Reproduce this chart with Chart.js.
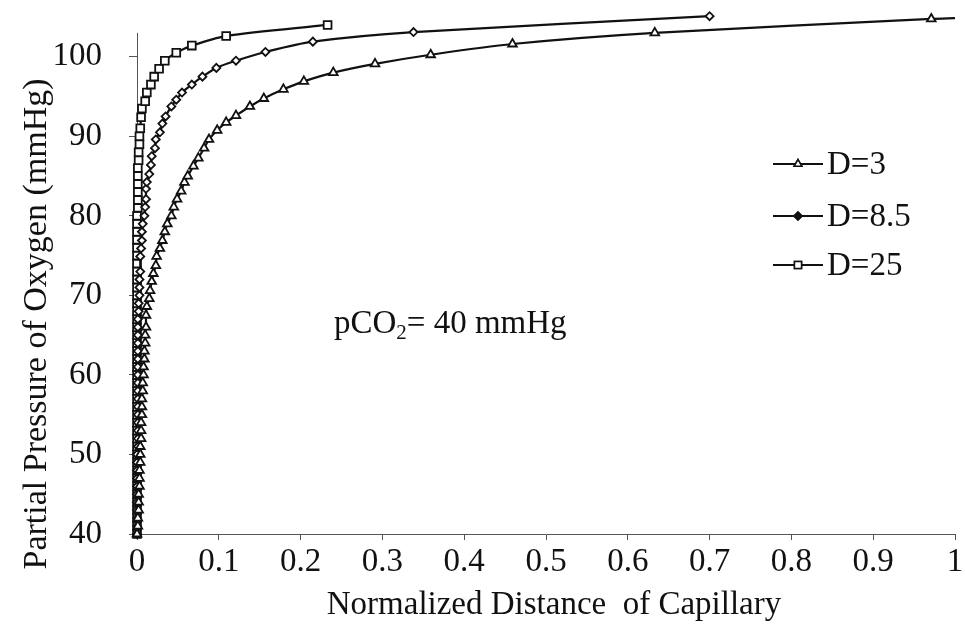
<!DOCTYPE html>
<html>
<head>
<meta charset="utf-8">
<script src="https://cdn.jsdelivr.net/npm/chart.js@4/dist/chart.umd.min.js"></script>
<style>
html,body{margin:0;padding:0;background:#fff;}
#wrap{width:965px;height:631px;position:relative;}
</style>
</head>
<body>
<div id="wrap"><canvas id="c" width="965" height="631"></canvas></div>
<script>
// ---- data ----
const seriesLabels = ["D=3", "D=8.5", "D=25"];

const d3X = [0.000,0.001,0.001,0.002,0.002,0.002,0.003,0.003,0.003,0.004,0.004,0.004,0.005,0.005,0.005,0.006,0.006,0.006,0.007,0.007,0.008,0.008,0.009,0.009,0.010,0.010,0.011,0.011,0.012,0.015,0.016,0.018,0.020,0.023,0.024,0.028,0.031,0.034,0.037,0.042,0.045,0.049,0.054,0.058,0.062,0.069,0.075,0.082,0.088,0.098,0.109,0.121,0.138,0.155,0.179,0.204,0.240,0.291,0.359,0.459,0.633,0.971,1.0];
const d3Y = [40,41,42,43,44,45,46,47,48,49,50,51,52,53,54,55,56,57,58,59,60,61,62,63,64,65,66,67.5,68.6,69.6,70.6,71.75,72.75,73.75,74.9,75.9,76.9,78,79,80,81.1,82.1,83.1,84.2,85,86.25,87.25,88.5,89.6,90.75,91.75,92.6,93.75,94.75,95.9,96.9,98,99.1,100.25,101.6,103,104.75,104.85];

const d85X = [0.000,0.000,0.000,0.000,0.000,0.000,0.000,0.000,0.000,0.000,0.000,0.001,0.001,0.001,0.001,0.001,0.001,0.001,0.001,0.001,0.001,0.001,0.001,0.001,0.001,0.001,0.001,0.001,0.002,0.002,0.003,0.003,0.003,0.004,0.004,0.005,0.006,0.006,0.007,0.009,0.010,0.011,0.011,0.012,0.015,0.017,0.018,0.022,0.023,0.028,0.031,0.035,0.042,0.048,0.055,0.067,0.080,0.097,0.121,0.157,0.215,0.338,0.700];
const d85Y = [40,41,42,43,44,45,46,47,48,49,50,51,52,53,54,55,56,57,58,59,60,61,62,63,64,65,66,67,68,69,70,71,72,73,74.9,75.9,76.9,78,79,80,81.1,82.1,83.4,84.25,85.25,86.4,87.5,88.5,89.6,90.5,91.6,92.5,93.75,94.6,95.5,96.5,97.5,98.6,99.5,100.6,101.9,103.1,105.1];

const d25X = [0.000,0.000,0.000,0.000,0.000,0.000,0.000,0.000,0.000,0.000,0.000,0.000,0.000,0.000,0.000,0.000,0.000,0.000,0.000,0.000,0.000,0.000,0.000,0.000,0.000,0.000,0.000,0.000,0.000,0.000,0.000,0.000,0.000,0.000,0.000,0.000,0.000,0.000,0.000,0.000,0.000,0.001,0.001,0.001,0.001,0.001,0.001,0.002,0.002,0.003,0.003,0.004,0.005,0.006,0.010,0.012,0.017,0.021,0.027,0.034,0.048,0.067,0.109,0.233];
const d25Y = [40,41,42,43,44,45,46,47,48,49,50,51,52,53,54,55,56,57,58,59,60,61,62,63,64,65,66,67,68,69,70,71,72,73,74,75,76,77,78,79,80,81,82,83,84,85,86,87,88,89,90,91,92.4,93.5,94.4,95.5,96.5,97.5,98.5,99.5,100.5,101.4,102.6,104];

const xTickValues = [0,0.1,0.2,0.3,0.4,0.5,0.6,0.7,0.8,0.9,1];
const xTickLabels = ["0","0.1","0.2","0.3","0.4","0.5","0.6","0.7","0.8","0.9","1"];
const yTickValues = [40,50,60,70,80,90,100];
const yAxisTop = 103;

const xTitle = "Normalized Distance  of Capillary";
const yTitle = "Partial Pressure of Oxygen (mmHg)";

// ---- build ----
const pts = (xs, ys) => xs.map((x, i) => ({x: x, y: ys[i]}));
const FONT = "'Liberation Serif', 'Times New Roman', serif";

const base = {
  borderColor: '#111', borderWidth: 2.2, backgroundColor: '#fff',
  pointBorderColor: '#111', pointBackgroundColor: '#fff', pointBorderWidth: 1.8,
  showLine: true, tension: 0.3, fill: false, clip: false
};

const datasets = [
  Object.assign({}, base, {label: seriesLabels[0], data: pts(d3X, d3Y), pointStyle: 'triangle',
    pointRadius: ctx => (ctx.dataIndex === d3X.length - 1 ? 0 : 5), legendRadius: 4.5}),
  Object.assign({}, base, {label: seriesLabels[1], data: pts(d85X, d85Y), pointStyle: 'rectRot', pointRadius: 4, legendRadius: 4}),
  Object.assign({}, base, {label: seriesLabels[2], data: pts(d25X, d25Y), pointStyle: 'rect', pointRadius: 5.5, legendRadius: 5})
];

const decor = {
  id: 'decor',
  beforeDatasetsDraw(chart) {
    const ctx = chart.ctx, a = chart.chartArea, ys = chart.scales.y;
    ctx.save();
    ctx.strokeStyle = '#555';
    ctx.lineWidth = 1;
    ctx.beginPath();
    ctx.moveTo(a.left + 0.5, ys.getPixelForValue(yAxisTop));
    ctx.lineTo(a.left + 0.5, a.bottom);
    ctx.stroke();
    ctx.restore();
  },
  afterDraw(chart) {
    const ctx = chart.ctx;
    ctx.save();
    ctx.fillStyle = '#111';
    ctx.strokeStyle = '#111';
    // y title
    ctx.save();
    ctx.translate(37, 324);
    ctx.rotate(-Math.PI / 2);
    ctx.font = "34px " + FONT;
    ctx.textAlign = 'center';
    ctx.textBaseline = 'middle';
    ctx.fillText(yTitle, 0, 0);
    ctx.restore();
    // x title
    ctx.font = "33px " + FONT;
    ctx.textAlign = 'center';
    ctx.textBaseline = 'middle';
    ctx.fillText(xTitle, 554, 605);
    // annotation pCO2= 40 mmHg
    ctx.textAlign = 'left';
    ctx.textBaseline = 'alphabetic';
    ctx.font = "33px " + FONT;
    let x = 334, y = 333;
    ctx.fillText("pCO", x, y); x += ctx.measureText("pCO").width;
    ctx.font = "21px " + FONT;
    ctx.fillText("2", x, y + 6); x += ctx.measureText("2").width;
    ctx.font = "33px " + FONT;
    ctx.fillText("= 40 mmHg", x, y);
    // legend
    const ly = [164, 216, 265];
    chart.data.datasets.forEach((ds, i) => {
      const yy = ly[i];
      ctx.lineWidth = 2;
      ctx.beginPath(); ctx.moveTo(773, yy); ctx.lineTo(823, yy); ctx.stroke();
      ctx.lineWidth = 1.5;
      ctx.fillStyle = i === 1 ? '#111' : '#fff';
      Chart.helpers.drawPoint(ctx, {pointStyle: ds.pointStyle, radius: ds.legendRadius, rotation: 0, borderWidth: 1.5}, 798, yy);
      ctx.fill(); ctx.stroke();
      ctx.fillStyle = '#111';
      ctx.font = "33px " + FONT;
      ctx.textAlign = 'left';
      ctx.textBaseline = 'middle';
      ctx.fillText(ds.label, 827, yy + 1);
    });
    ctx.restore();
  }
};

new Chart(document.getElementById('c'), {
  type: 'scatter',
  data: {datasets: datasets},
  options: {
    responsive: false,
    animation: false,
    devicePixelRatio: 1,
    layout: {padding: {top: 13, right: 10, left: 0, bottom: 0}},
    plugins: {legend: {display: false}, tooltip: {enabled: false}},
    scales: {
      x: {
        type: 'linear', min: 0, max: 1,
        afterBuildTicks: s => { s.ticks = xTickValues.map(v => ({value: v})); },
        afterFit: s => { s.height = 97; s.paddingLeft = 0; s.paddingRight = 0; },
        ticks: {
          callback: (v) => { const i = xTickValues.indexOf(v); return i >= 0 ? xTickLabels[i] : ''; },
          font: {family: FONT, size: 33}, color: '#111', padding: 3, maxRotation: 0, autoSkip: false
        },
        grid: {display: true, drawOnChartArea: false, drawTicks: true, tickLength: 6, color: '#555'},
        border: {display: true, color: '#555', width: 1}
      },
      y: {
        type: 'linear', min: 40, max: 105.5,
        afterBuildTicks: s => { s.ticks = yTickValues.map(v => ({value: v})); },
        afterFit: s => { s.width = 137; s.paddingTop = 0; s.paddingBottom = 0; },
        ticks: {font: {family: FONT, size: 33}, color: '#111', padding: 27},
        grid: {display: true, drawOnChartArea: false, drawTicks: true, tickLength: 8, color: '#555'},
        border: {display: false}
      }
    }
  },
  plugins: [decor]
});
</script>
</body>
</html>
